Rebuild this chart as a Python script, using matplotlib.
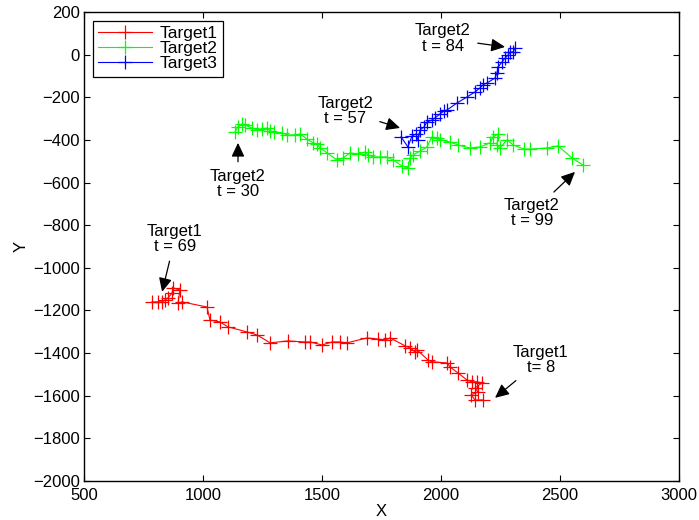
import matplotlib
matplotlib.use("Agg")
import matplotlib.pyplot as plt

plt.rcParams['font.family'] = ['Liberation Sans', 'DejaVu Sans']

# Target1 (red), from t=8 (bottom right) to t=69 (upper left)
t1_x = [2176, 2143, 2126, 2155, 2143, 2172, 2151, 2130, 2109, 2071, 2038, 2025,
        1962, 1945, 1899, 1891, 1870, 1849, 1786, 1765, 1735, 1689, 1605, 1576,
        1542, 1500, 1450, 1429, 1357, 1282, 1227, 1185, 1105, 1071, 1029, 1017,
        912, 895, 903, 874, 870, 853, 840, 828, 811, 786]
t1_y = [-1620, -1620, -1596, -1582, -1563, -1540, -1535, -1535, -1526, -1493, -1465, -1446,
        -1441, -1432, -1385, -1395, -1376, -1366, -1329, -1338, -1334, -1329, -1352, -1348,
        -1348, -1362, -1348, -1348, -1343, -1352, -1315, -1301, -1277, -1254, -1245, -1184,
        -1160, -1165, -1104, -1094, -1118, -1141, -1151, -1160, -1160, -1160]

# Target2 (green), from t=30 (left) to t=99 (right)
t2_x = [1134, 1147, 1164, 1176, 1206, 1227, 1248, 1269, 1282, 1298, 1332, 1353,
        1387, 1408, 1437, 1462, 1479, 1492, 1521, 1563, 1588, 1618, 1651, 1681,
        1693, 1714, 1744, 1773, 1798, 1836, 1861, 1870, 1882, 1912, 1941, 1962,
        1983, 1996, 2038, 2071, 2122, 2164, 2206, 2219, 2240, 2235, 2248, 2277,
        2303, 2349, 2374, 2445, 2492, 2550, 2597]
t2_y = [-363, -339, -325, -330, -344, -353, -349, -344, -358, -363, -367, -377,
        -377, -372, -396, -414, -419, -438, -461, -494, -485, -461, -466, -457,
        -471, -480, -480, -480, -494, -522, -532, -485, -471, -452, -433, -386,
        -391, -400, -410, -424, -438, -433, -414, -386, -372, -424, -438, -400,
        -424, -443, -443, -438, -428, -485, -518]

# Target3 (blue), from t=57 to t=84
t3_x = [1832, 1861, 1878, 1895, 1903, 1912, 1929, 1941, 1962, 1975, 1996, 2013,
        2025, 2067, 2109, 2143, 2164, 2176, 2193, 2227, 2235, 2240, 2256, 2269,
        2282, 2290, 2303, 2311]
t3_y = [-386, -433, -382, -372, -400, -353, -339, -316, -307, -297, -278, -264,
        -260, -227, -199, -175, -156, -142, -133, -110, -86, -58, -35, -16,
        -2, 12, 12, 31]

legend_labels = ['Target1', 'Target2', 'Target3']

# annotations: (text, text_x, text_y, tip_x, tip_y)
annotations = [
    ('Target2\nt = 84', 2008, 76, 2269, 36),
    ('Target2\nt = 57', 1597, -264, 1828, -344),
    ('Target2\nt = 30', 1147, -607, 1147, -414),
    ('Target2\nt = 99', 2382, -743, 2563, -550),
    ('Target1\nt = 69', 882, -865, 828, -1113),
    ('Target1\nt= 8', 2420, -1432, 2227, -1610),
]

fig = plt.figure(figsize=(6.99, 5.2), dpi=100)
ax = fig.add_axes([0.1202, 0.075, 0.8512, 0.902])

mk = dict(marker='+', markersize=9.5, markeredgewidth=0.9, linewidth=0.8)
ax.plot(t1_x, t1_y, color=(1, 0, 0), label=legend_labels[0], **mk)
ax.plot(t2_x, t2_y, color=(0, 1, 0), label=legend_labels[1], **mk)
ax.plot(t3_x, t3_y, color=(0, 0, 1), label=legend_labels[2], **mk)

for txt, tx, ty, px, py in annotations:
    ax.annotate(txt, xy=(px, py), xytext=(tx, ty), ha='center', va='center',
                fontsize=12, linespacing=1.05,
                arrowprops=dict(arrowstyle='-|>,head_length=0.7,head_width=0.33',
                                color='k', lw=0.9, shrinkA=3, shrinkB=0))

ax.set_xlim(500, 3000)
ax.set_ylim(-2000, 200)
ax.set_xticks(range(500, 3001, 500))
ax.set_yticks(range(-2000, 201, 200))
ax.tick_params(direction='in', top=True, right=True, length=4, width=0.8,
               labelsize=12, pad=3)
ax.tick_params(axis='x', pad=5)
for s in ax.spines.values():
    s.set_linewidth(1.0)
ax.set_xlabel('X', fontsize=12, labelpad=1)
ax.set_ylabel('Y', fontsize=12, labelpad=3)

leg = ax.legend(loc='upper left', fontsize=12.5, fancybox=False, edgecolor='k',
                framealpha=1, handlelength=3.1, borderaxespad=0.5,
                labelspacing=0.0, borderpad=0.3, handletextpad=0.45)
leg.get_frame().set_linewidth(0.9)

fig.savefig('out.png', dpi=100)
